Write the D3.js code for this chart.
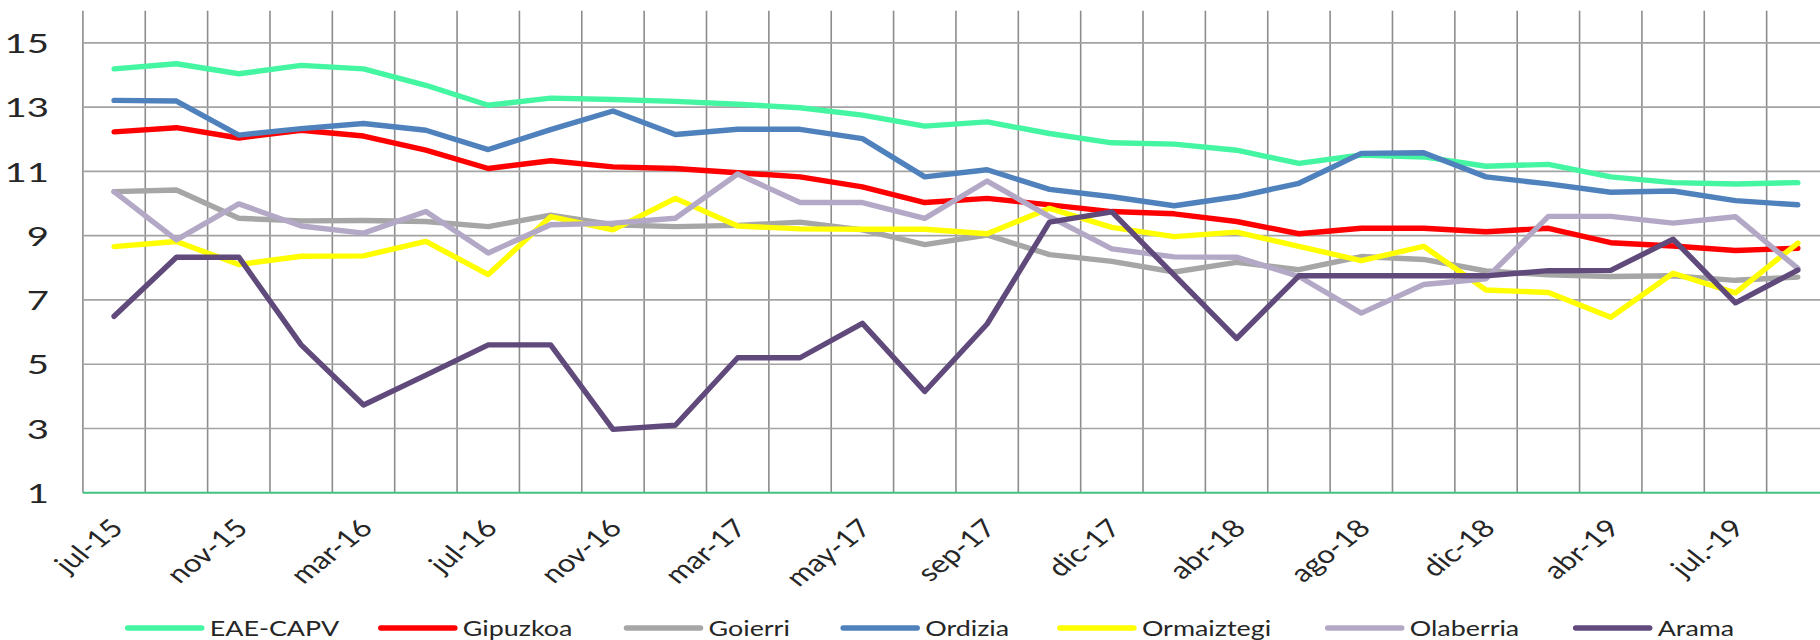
<!DOCTYPE html>
<html><head><meta charset="utf-8">
<script src="https://cdn.jsdelivr.net/npm/d3@7"></script>
<style>
html,body{margin:0;padding:0;background:#fff;}
svg{display:block;}
text{font-family:Lato,"Open Sans",sans-serif;fill:#333;}
</style></head>
<body>
<svg id="chart" width="1820" height="640"></svg>
<script>
// ---- data ----
const categories = ["jul-15","sep-15","nov-15","ene-16","mar-16","may-16","jul-16","sep-16","nov-16","ene-17","mar-17","abr-17","may-17","jul-17","sep-17","oct-17","dic-17","feb-18","abr-18","jun-18","ago-18","oct-18","dic-18","feb-19","abr-19","may-19","jul.-19","sep-19"];
const shownLabels = ["jul-15","nov-15","mar-16","jul-16","nov-16","mar-17","may-17","sep-17","dic-17","abr-18","ago-18","dic-18","abr-19","jul.-19"];
const yTicks = [1,3,5,7,9,11,13,15];
const seriesNames = ["EAE-CAPV","Gipuzkoa","Goierri","Ordizia","Ormaiztegi","Olaberria","Arama"];
const eae       = [14.19,14.35,14.04,14.30,14.19,13.68,13.06,13.28,13.24,13.18,13.09,12.98,12.75,12.41,12.54,12.18,11.89,11.85,11.66,11.25,11.51,11.45,11.16,11.22,10.83,10.65,10.61,10.65];
const gipuzkoa  = [12.23,12.36,12.04,12.28,12.10,11.66,11.09,11.33,11.14,11.09,10.96,10.83,10.52,10.03,10.16,9.96,9.75,9.68,9.44,9.06,9.23,9.23,9.12,9.23,8.78,8.68,8.54,8.61];
const goierri   = [10.37,10.42,9.54,9.46,9.47,9.44,9.28,9.64,9.34,9.28,9.32,9.42,9.18,8.72,9.02,8.41,8.20,7.87,8.17,7.94,8.35,8.26,7.90,7.78,7.73,7.75,7.61,7.71];
const ordizia   = [13.21,13.19,12.13,12.33,12.49,12.28,11.68,12.30,12.88,12.15,12.31,12.31,12.02,10.83,11.05,10.44,10.21,9.93,10.21,10.63,11.56,11.58,10.83,10.61,10.35,10.39,10.09,9.96];
const ormaiztegi= [8.66,8.82,8.10,8.36,8.37,8.82,7.79,9.59,9.18,10.16,9.30,9.21,9.20,9.20,9.06,9.85,9.26,8.97,9.11,8.67,8.22,8.67,7.31,7.23,6.46,7.83,7.22,8.77];
const olaberria = [10.37,8.87,9.99,9.30,9.08,9.75,8.46,9.34,9.39,9.54,10.92,10.03,10.03,9.54,10.70,9.59,8.59,8.34,8.33,7.73,6.59,7.48,7.66,9.60,9.60,9.39,9.59,7.98];
const arama     = [6.49,8.33,8.33,5.60,3.73,4.66,5.60,5.60,2.97,3.10,5.20,5.20,6.27,4.15,6.25,9.42,9.74,7.77,5.80,7.75,7.75,7.75,7.75,7.91,7.92,8.89,6.91,7.93];
const seriesValues = [eae,gipuzkoa,goierri,ordizia,ormaiztegi,olaberria,arama];
const colors = ["#44F5A2","#FF0000","#A6A6A6","#4F81BD","#FFFF00","#B3A9C7","#604A7B"];

// ---- layout ----
const SX = 1.28;   // horizontal stretch of the original picture
const SXY = 1.42;  // stretch for y tick labels
const plot = {left:82.9, right:1829, top:10.75, bottom:492.7};
const legendX = [125.7,378.8,624.5,841.2,1057.9,1325.7,1573.7];
const legendY = 628;

const svg = d3.select("#chart");
const x = d3.scaleBand().domain(categories).range([plot.left, plot.right]).padding(0);
const y = d3.scaleLinear().domain([1,16]).range([plot.bottom, plot.top]);

// vertical gridlines at category boundaries
const bounds = categories.map(c => x(c)).concat([plot.right]);
svg.append("g").selectAll("line").data(bounds).join("line")
  .attr("x1", d=>d).attr("x2", d=>d)
  .attr("y1", plot.top).attr("y2", plot.bottom)
  .attr("stroke","#8c8c8c").attr("stroke-width",1.6);

// horizontal gridlines
svg.append("g").selectAll("line").data(yTicks.filter(t=>t>1)).join("line")
  .attr("x1", plot.left).attr("x2", plot.right)
  .attr("y1", d=>y(d)).attr("y2", d=>y(d))
  .attr("stroke","#a3a3a3").attr("stroke-width",1.6);

// y axis
const yAxis = svg.append("g").attr("transform",`translate(${plot.left},0)`)
  .call(d3.axisLeft(y).tickValues(yTicks).tickSize(0).tickFormat(d3.format("d")));
yAxis.select(".domain").remove();
yAxis.selectAll("text")
  .attr("x", -34/SXY).attr("dy","0.36em")
  .attr("transform",`scale(${SXY},1)`)
  .style("font-size","27px").style("fill","#262626").style("font-family","Lato, 'Open Sans', sans-serif");

// x axis
const xAxis = svg.append("g").attr("transform",`translate(0,${plot.bottom})`)
  .call(d3.axisBottom(x).tickValues(shownLabels).tickSize(0));
xAxis.select(".domain").remove();
xAxis.selectAll("text")
  .attr("x",0).attr("y",0).attr("dy","0.35em")
  .style("text-anchor","end")
  .attr("transform",`translate(3,31) scale(${SX},1) rotate(-45)`)
  .style("font-size","24.5px").style("fill","#262626").style("font-family","Lato, 'Open Sans', sans-serif");

// baseline
svg.append("line").attr("x1",plot.left).attr("x2",plot.right)
  .attr("y1",y(1)).attr("y2",y(1)).attr("stroke","#3fc47c").attr("stroke-width",2);

// lines
const line = d3.line().x((d,i)=>x(categories[i])+x.bandwidth()/2).y(d=>y(d));
svg.append("g").selectAll("path").data(seriesValues).join("path")
  .attr("d", d=>line(d))
  .attr("fill","none")
  .attr("stroke",(d,i)=>colors[i])
  .attr("stroke-width",5.4)
  .attr("stroke-linejoin","round")
  .attr("stroke-linecap","round");

// legend
const lg = svg.append("g").selectAll("g").data(seriesNames).join("g")
  .attr("transform",(d,i)=>`translate(${legendX[i]},${legendY})`);
lg.append("line").attr("x1",2).attr("x2",76).attr("y1",0).attr("y2",0)
  .attr("stroke",(d,i)=>colors[i]).attr("stroke-width",5.5).attr("stroke-linecap","round");
lg.append("text").attr("x",84/SX).attr("y",0).attr("dy","0.36em")
  .attr("transform",`scale(${SX},1)`)
  .style("font-size","21px").style("fill","#262626")
  .text(d=>d);
</script>
</body></html>
